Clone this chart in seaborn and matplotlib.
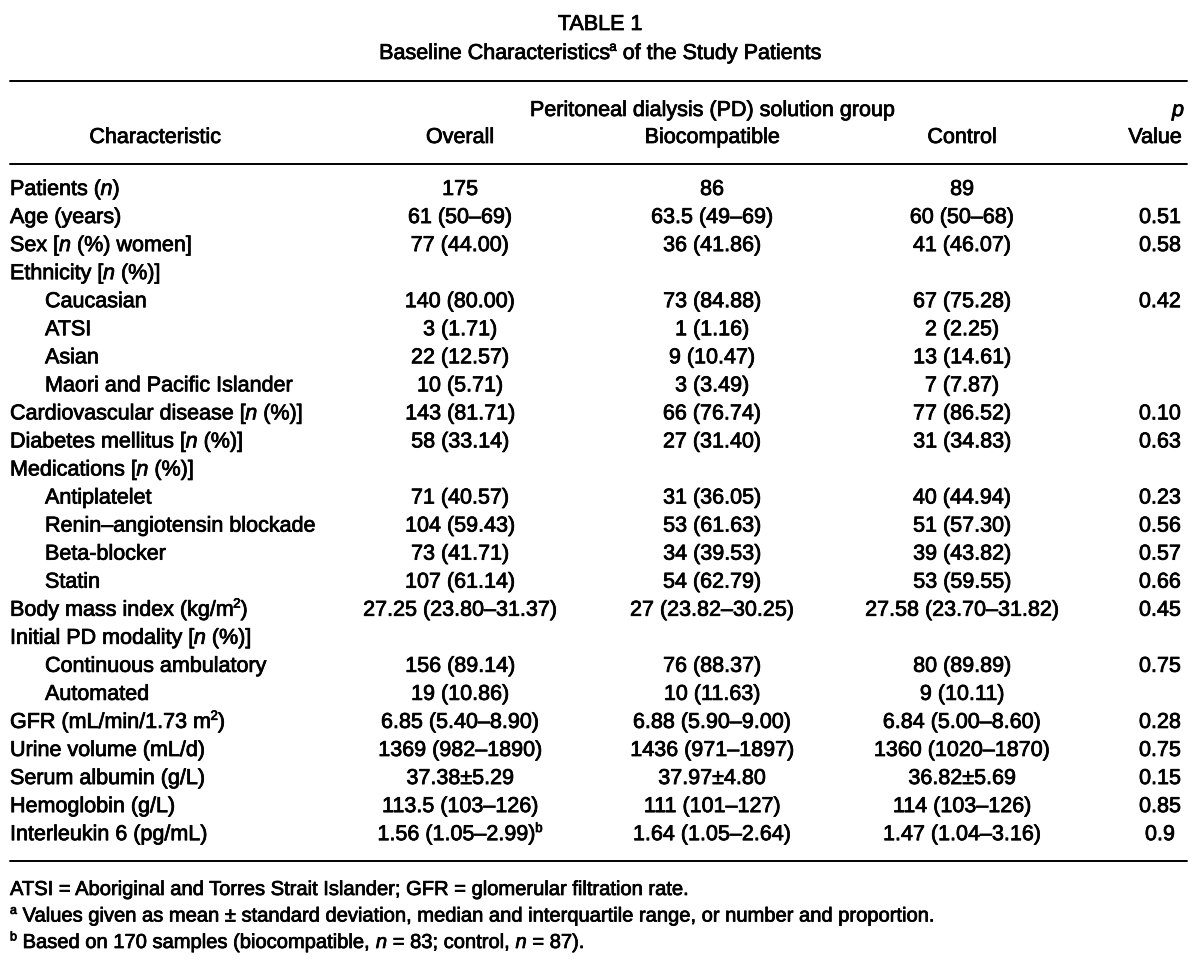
import re
import matplotlib
matplotlib.use("Agg")
import matplotlib.pyplot as plt
import matplotlib.font_manager as fm
import matplotlib.patheffects as pe
import seaborn as sns

# ─── Table content ──────────────────────────────────────────────────────────
# markup: _x_ = italic, ^x^ = superscript

title = "TABLE 1"
subtitle = "Baseline Characteristics^a^ of the Study Patients"

group_header = "Peritoneal dialysis (PD) solution group"
col_headers = ["Characteristic", "Overall", "Biocompatible", "Control"]
p_header = ["_p_", "Value"]

labels = [
    "Patients (_n_)", "Age (years)", "Sex [_n_ (%) women]", "Ethnicity [_n_ (%)]",
    "Caucasian", "ATSI", "Asian", "Maori and Pacific Islander",
    "Cardiovascular disease [_n_ (%)]", "Diabetes mellitus [_n_ (%)]",
    "Medications [_n_ (%)]", "Antiplatelet", "Renin–angiotensin blockade",
    "Beta-blocker", "Statin", "Body mass index (kg/m^2^)",
    "Initial PD modality [_n_ (%)]", "Continuous ambulatory", "Automated",
    "GFR (mL/min/1.73 m^2^)", "Urine volume (mL/d)", "Serum albumin (g/L)",
    "Hemoglobin (g/L)", "Interleukin 6 (pg/mL)",
]
indented = [0, 0, 0, 0, 1, 1, 1, 1, 0, 0, 0, 1, 1, 1, 1, 0, 0, 1, 1, 0, 0, 0, 0, 0]

overall = [
    "175", "61 (50–69)", "77 (44.00)", "", "140 (80.00)", "3 (1.71)",
    "22 (12.57)", "10 (5.71)", "143 (81.71)", "58 (33.14)", "", "71 (40.57)",
    "104 (59.43)", "73 (41.71)", "107 (61.14)", "27.25 (23.80–31.37)", "",
    "156 (89.14)", "19 (10.86)", "6.85 (5.40–8.90)", "1369 (982–1890)",
    "37.38±5.29", "113.5 (103–126)", "1.56 (1.05–2.99)^b^",
]
biocompatible = [
    "86", "63.5 (49–69)", "36 (41.86)", "", "73 (84.88)", "1 (1.16)",
    "9 (10.47)", "3 (3.49)", "66 (76.74)", "27 (31.40)", "", "31 (36.05)",
    "53 (61.63)", "34 (39.53)", "54 (62.79)", "27 (23.82–30.25)", "",
    "76 (88.37)", "10 (11.63)", "6.88 (5.90–9.00)", "1436 (971–1897)",
    "37.97±4.80", "111 (101–127)", "1.64 (1.05–2.64)",
]
control = [
    "89", "60 (50–68)", "41 (46.07)", "", "67 (75.28)", "2 (2.25)",
    "13 (14.61)", "7 (7.87)", "77 (86.52)", "31 (34.83)", "", "40 (44.94)",
    "51 (57.30)", "39 (43.82)", "53 (59.55)", "27.58 (23.70–31.82)", "",
    "80 (89.89)", "9 (10.11)", "6.84 (5.00–8.60)", "1360 (1020–1870)",
    "36.82±5.69", "114 (103–126)", "1.47 (1.04–3.16)",
]
p_values = [
    "", "0.51", "0.58", "", "0.42", "", "", "", "0.10", "0.63", "", "0.23",
    "0.56", "0.57", "0.66", "0.45", "", "0.75", "", "0.28", "0.75", "0.15",
    "0.85", "0.9",
]

footnotes = [
    "ATSI = Aboriginal and Torres Strait Islander; GFR = glomerular filtration rate.",
    "^a^ Values given as mean ± standard deviation, median and interquartile range, or number and proportion.",
    "^b^ Based on 170 samples (biocompatible, _n_ = 83; control, _n_ = 87).",
]

# ─── Layout (pixels, y grows downward) ─────────────────────────────────────
W, H = 1200, 968
FS = 15.5
X_LEFT, X_INDENT = 10, 45
X_OVERALL, X_BIO, X_CTRL, X_P = 460, 712, 962, 1160
ROW0, ROW_STEP = 195, 28.05
RULE_L, RULE_R = 10, 1187

sns.set_theme(style="white")
installed = {f.name for f in fm.fontManager.ttflist}
family = [f for f in ["Liberation Sans Narrow", "Liberation Sans", "DejaVu Sans"] if f in installed]
plt.rcParams["font.family"] = family + ["DejaVu Sans"]

fig = plt.figure(figsize=(W / 100, H / 100), dpi=100)
ax = fig.add_axes([0, 0, 1, 1])
ax.set_xlim(0, W)
ax.set_ylim(H, 0)
ax.axis("off")
renderer = fig.canvas.get_renderer()
heavy = [pe.withStroke(linewidth=0.55, foreground="black")]


def parse(s):
    parts = []
    for tok in re.split(r"(_[^_]+_|\^[^^]+\^)", s):
        if not tok:
            continue
        if tok.startswith("_"):
            parts.append((tok[1:-1], "i"))
        elif tok.startswith("^"):
            parts.append((tok[1:-1], "sup"))
        else:
            parts.append((tok, "n"))
    return parts


def rich(x, y, s, ha="left", size=FS):
    # y is the baseline; pieces are laid out one after another
    pieces = []
    for txt, kind in parse(s):
        kw = dict(fontsize=size, va="baseline", ha="left", color="black",
                  path_effects=heavy)
        if kind == "i":
            kw["style"] = "italic"
        if kind == "sup":
            kw["fontsize"] = size * 0.62
        t = ax.text(0, y, txt, **kw)
        w = t.get_window_extent(renderer).width
        pieces.append((t, w, kind))
    total = sum(p[1] for p in pieces)
    cur = {"left": x, "center": x - total / 2, "right": x - total}[ha]
    for t, w, kind in pieces:
        yy = y - size * 100 / 72 * 0.38 if kind == "sup" else y
        t.set_position((cur, yy))
        cur += w


# titles
rich(W / 2, 30, title, ha="center", size=15.5)
rich(W / 2, 59, subtitle, ha="center", size=15.5)

# header
ax.plot([RULE_L, RULE_R], [81, 81], color="black", lw=1.4)
rich(X_BIO, 116, group_header, ha="center")
rich(155, 143, col_headers[0], ha="center")
rich(X_OVERALL, 143, col_headers[1], ha="center")
rich(X_BIO, 143, col_headers[2], ha="center")
rich(X_CTRL, 143, col_headers[3], ha="center")
rich(1178, 116, p_header[0], ha="center")
rich(1155, 143, p_header[1], ha="center")
ax.plot([RULE_L, RULE_R], [164, 164], color="black", lw=1.4)

# body
for i, lab in enumerate(labels):
    y = ROW0 + i * ROW_STEP
    rich(X_INDENT if indented[i] else X_LEFT, y, lab)
    rich(X_OVERALL, y, overall[i], ha="center")
    rich(X_BIO, y, biocompatible[i], ha="center")
    rich(X_CTRL, y, control[i], ha="center")
    rich(X_P, y, p_values[i], ha="center")

y_bottom = 861
ax.plot([RULE_L, RULE_R], [y_bottom, y_bottom], color="black", lw=1.4)

for k, note in enumerate(footnotes):
    rich(X_LEFT, y_bottom + 34 + k * 26.5, note, size=14.5)

fig.savefig("out.png", dpi=100, facecolor="white")
